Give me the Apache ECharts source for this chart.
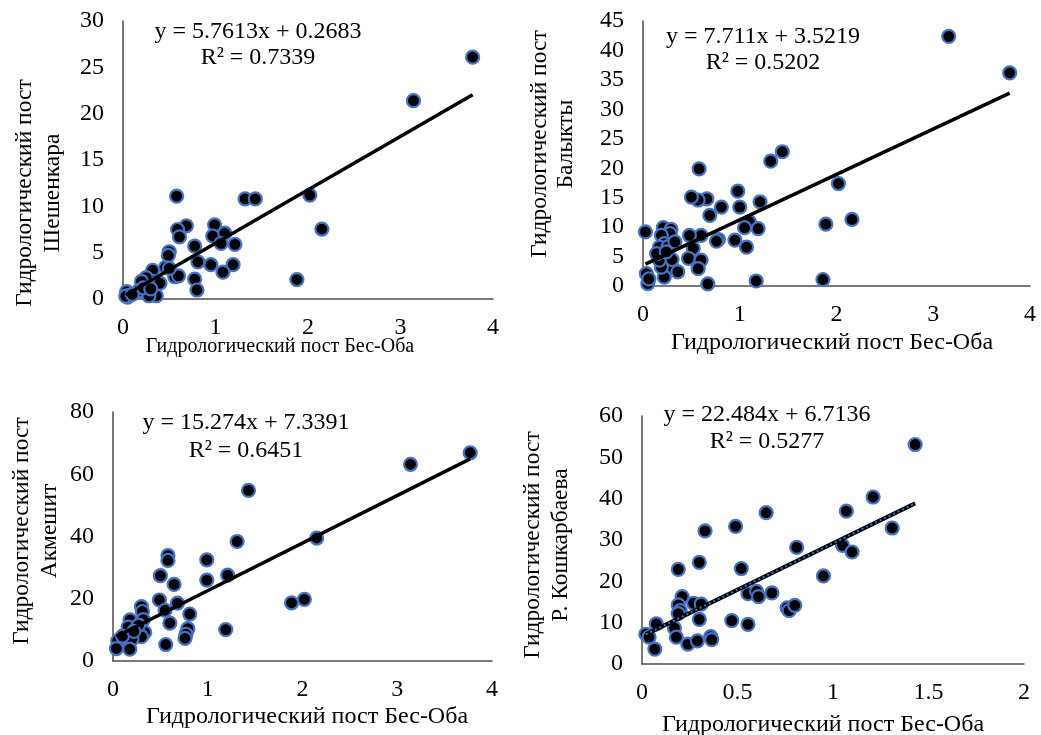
<!DOCTYPE html>
<html>
<head>
<meta charset="utf-8">
<script src="https://cdn.jsdelivr.net/npm/echarts@6/dist/echarts.min.js"></script>
<style>
  html, body { margin: 0; background: #fff; }
  #chart { width: 1041px; height: 735px; }
</style>
</head>
<body>
<div id="chart"></div>
<script>
// Бес-Оба (x) против других постов (y)
const sheshenkara = [
  [3.78, 26.1], [3.14, 21.4], [0.58, 11.1], [1.32, 10.8], [1.43, 10.8], [2.02, 11.2], [2.15, 7.55], [1.88, 2.1],
  [0.685, 7.9], [0.59, 7.5], [0.61, 6.7], [0.99, 8.0], [0.97, 6.8], [1.10, 7.1], [1.06, 6.0], [1.21, 5.9],
  [0.775, 5.7], [0.81, 4.0], [0.95, 3.7], [1.19, 3.7], [1.08, 2.9], [0.775, 2.15], [0.80, 0.97],
  [0.50, 5.1], [0.49, 4.7], [0.46, 3.4], [0.56, 2.4], [0.60, 2.5],
  [0.32, 3.1], [0.36, 0.35], [0.36, 1.6], [0.32, 1.9], [0.27, 1.9], [0.25, 2.3], [0.20, 1.9], [0.17, 0.9], [0.28, 0.35],
  [0.04, 0.8], [0.05, 0.2], [0.07, 0.4], [0.03, 0.3], [0.10, 0.5], [0.22, 1.2], [0.40, 1.7], [0.30, 1.1], [0.50, 3.3]
];
const balykty = [
  [3.16, 42.4], [3.79, 36.2], [1.44, 22.8], [1.32, 21.2], [0.58, 19.9], [2.02, 17.4], [2.16, 11.3], [1.89, 10.5],
  [1.86, 1.1], [1.17, 0.85], [0.67, 0.35],
  [0.98, 16.1], [1.0, 13.4], [0.81, 13.4], [1.21, 14.3], [0.66, 14.8], [0.57, 14.6], [0.50, 15.1], [0.69, 12.0],
  [1.10, 10.9], [1.05, 9.9], [1.19, 9.75], [1.07, 6.6], [0.95, 7.8], [0.78, 7.9], [0.76, 7.6],
  [0.60, 8.6], [0.48, 8.6], [0.52, 6.4], [0.47, 4.7], [0.60, 4.4], [0.57, 2.95],
  [0.025, 9.2], [0.21, 9.9], [0.29, 9.6], [0.28, 8.9], [0.19, 8.6], [0.22, 7.2], [0.17, 6.6], [0.26, 6.7], [0.33, 7.5],
  [0.31, 2.95], [0.36, 2.4], [0.22, 1.5], [0.19, 3.2], [0.17, 4.4], [0.30, 4.5], [0.035, 2.1], [0.05, 0.4],
  [0.06, 1.2], [0.14, 5.5], [0.24, 5.8]
];
const akmeshit = [
  [3.77, 66.9], [3.14, 63.2], [1.43, 54.8], [1.31, 38.4], [2.15, 39.5], [0.99, 32.5], [0.58, 33.9], [0.58, 32.3],
  [0.50, 27.4], [1.21, 27.6], [0.99, 26.0], [0.645, 24.6],
  [0.49, 19.6], [0.68, 18.6], [0.55, 16.3], [0.81, 15.1], [0.60, 12.2], [0.79, 10.4], [0.77, 8.6], [0.76, 7.3],
  [1.19, 10.1], [0.557, 5.3], [1.885, 18.7], [2.02, 19.8],
  [0.30, 17.5], [0.31, 15.9], [0.32, 13.3], [0.18, 13.2], [0.16, 10.9], [0.25, 10.5], [0.335, 9.2], [0.30, 7.8],
  [0.20, 7.0], [0.05, 6.5], [0.036, 4.0], [0.177, 3.8], [0.27, 11.5], [0.10, 8.0], [0.22, 9.5]
];
const koshkarbaeva = [
  [1.43, 53.1], [1.21, 40.4], [1.07, 37.0], [0.65, 36.6], [0.49, 33.3], [0.33, 32.2], [1.31, 32.9], [0.81, 28.2],
  [1.05, 28.7], [1.10, 27.1], [0.30, 24.6], [0.52, 23.1], [0.19, 22.9], [0.95, 21.3],
  [0.555, 17.0], [0.60, 17.6], [0.61, 16.3], [0.68, 17.2], [0.21, 16.3], [0.19, 14.3], [0.27, 14.7], [0.31, 14.5],
  [0.20, 12.9], [0.19, 12.2], [0.76, 13.6], [0.77, 12.9], [0.80, 14.2],
  [0.30, 10.8], [0.47, 10.5], [0.555, 9.6], [0.075, 9.7], [0.17, 8.7], [0.02, 7.2], [0.037, 6.5], [0.18, 6.5],
  [0.067, 3.6], [0.24, 4.8], [0.29, 5.6], [0.36, 6.6], [0.365, 5.9]
];

// линии тренда: [наклон, свободный член]
const trend1 = [5.7613, 0.2683];
const trend2 = [7.711, 3.5219];
const trend3 = [15.274, 7.3391];
const trend4 = [22.484, 6.7136];

const eqTexts = [
  ['y = 5.7613x + 0.2683', 'R² = 0.7339'],
  ['y = 7.711x + 3.5219', 'R² = 0.5202'],
  ['y = 15.274x + 7.3391', 'R² = 0.6451'],
  ['y = 22.484x + 6.7136', 'R² = 0.5277']
];
const yTitles = [
  ['Гидрологический пост', 'Шешенкара'],
  ['Гидрологический пост', 'Балыкты'],
  ['Гидрологический пост', 'Акмешит'],
  ['Гидрологический пост', 'Р. Кошкарбаева']
];
const xTitle = 'Гидрологический пост Бес-Оба';

const FONT = '"Liberation Serif", "Times New Roman", serif';
const TXT = '#000';
const AXIS = '#4d4d4d';
const BLUE = '#4472C4';

const chart = echarts.init(document.getElementById('chart'));

const grids = [
  { left: 123, top: 21, width: 370, height: 278 },
  { left: 643, top: 21, width: 387, height: 265 },
  { left: 113, top: 412, width: 379, height: 249 },
  { left: 642, top: 416, width: 382, height: 248 }
];
const xRanges = [[4, 1], [4, 1], [4, 1], [2, 0.5]];
const yRanges = [[30, 5], [45, 5], [80, 20], [60, 10]];

function trendLine(data, coef) {
  const xs = data.map(d => d[0]);
  const x0 = Math.min(...xs), x1 = Math.max(...xs);
  return [[x0, coef[0] * x0 + coef[1]], [x1, coef[0] * x1 + coef[1]]];
}

const axisCommon = {
  type: 'value',
  min: 0,
  splitLine: { show: false },
  axisTick: { show: false },
  axisLine: { show: true, lineStyle: { color: AXIS, width: 1.5 } },
  axisLabel: { color: TXT, fontSize: 24, fontFamily: FONT }
};

const xAxes = xRanges.map((r, i) => ({
  ...axisCommon, gridIndex: i, max: r[0], interval: r[1],
  axisLabel: { ...axisCommon.axisLabel, margin: 17 }
}));
const yAxes = yRanges.map((r, i) => ({
  ...axisCommon, gridIndex: i, max: r[0], interval: r[1],
  axisLabel: { ...axisCommon.axisLabel, margin: 19 }
}));

const sets = [sheshenkara, balykty, akmeshit, koshkarbaeva];
const trends = [trend1, trend2, trend3, trend4];

const series = [];
sets.forEach((d, i) => {
  series.push({
    type: 'scatter', xAxisIndex: i, yAxisIndex: i, data: d,
    symbolSize: 13,
    itemStyle: { color: '#000', borderColor: BLUE, borderWidth: 2.2, opacity: 1 },
    z: 2
  });
  series.push({
    type: 'line', xAxisIndex: i, yAxisIndex: i, data: trendLine(d, trends[i]),
    showSymbol: false, silent: true,
    lineStyle: { color: '#000', width: i === 3 ? 4 : 3.5 },
    z: 3
  });
});
// пунктир поверх линии тренда на 4-м графике
series.push({
  type: 'line', xAxisIndex: 3, yAxisIndex: 3, data: trendLine(koshkarbaeva, trend4),
  showSymbol: false, silent: true,
  lineStyle: { color: BLUE, width: 2, type: [2, 3] },
  z: 4
});

// подписи: уравнения, названия осей
const eqPos = [[258, 32, 58], [763, 37, 63], [246, 423, 451], [767, 415, 442]];
const yTitlePos = [[25, 53, 193], [540, 566, 144], [22, 50, 531], [533, 561, 545]];
const xTitlePos = [[280, 347, 20], [832, 343, 24], [307, 717, 24], [823, 725, 24]];

const graphic = [];
const txt = (x, y, text, size, rot) => ({
  type: 'text', x, y, rotation: rot || 0,
  style: { text, fill: TXT, font: `${size}px ${FONT}`, textAlign: 'center', textVerticalAlign: 'middle' }
});
eqPos.forEach((p, i) => {
  graphic.push(txt(p[0], p[1], eqTexts[i][0], 24));
  graphic.push(txt(p[0], p[2], eqTexts[i][1], 24));
});
yTitlePos.forEach((p, i) => {
  graphic.push(txt(p[0], p[2], yTitles[i][0], 23.5, Math.PI / 2));
  graphic.push(txt(p[1], p[2], yTitles[i][1], 23.5, Math.PI / 2));
});
xTitlePos.forEach(p => graphic.push(txt(p[0], p[1], xTitle, p[2])));

chart.setOption({
  backgroundColor: '#fff',
  animation: false,
  grid: grids,
  xAxis: xAxes,
  yAxis: yAxes,
  series,
  graphic
});
</script>
</body>
</html>
